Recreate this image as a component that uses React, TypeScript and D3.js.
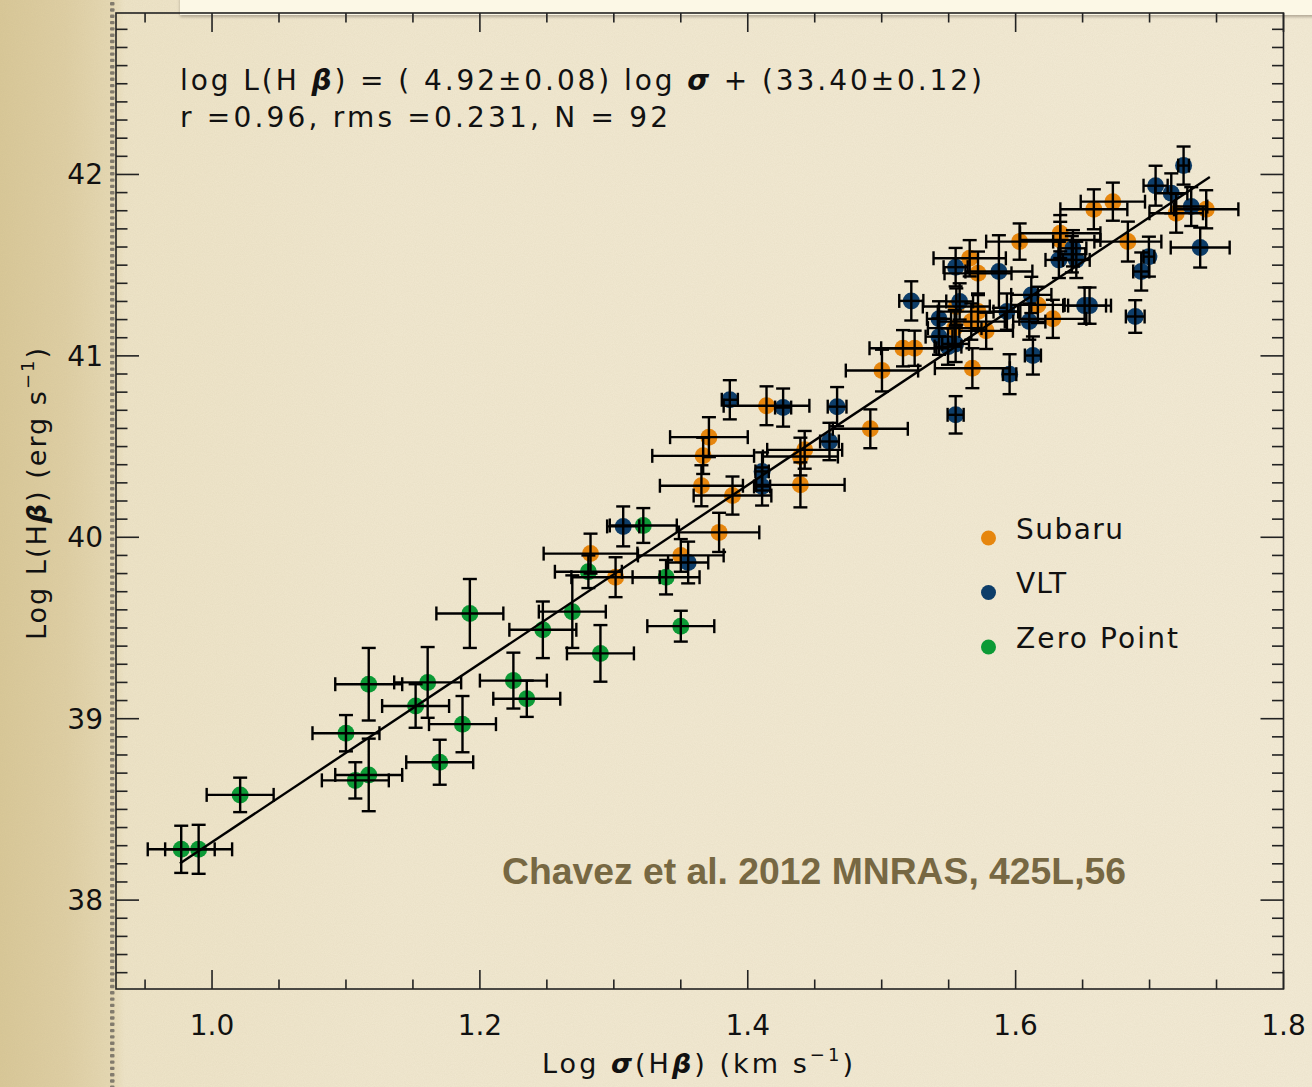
import React from 'react';
import * as d3 from 'd3';

const W = 1312;
const H = 1087;

// [log sigma(Hb), log L(Hb), error in log sigma, error in log L]
const zeroPointData: [number, number, number, number][] = [
  [0.977, 38.28, 0.025, 0.13],
  [0.990, 38.28, 0.025, 0.135],
  [1.021, 38.58, 0.025, 0.095],
  [1.100, 38.92, 0.025, 0.10],
  [1.107, 38.66, 0.025, 0.10],
  [1.117, 38.69, 0.025, 0.20],
  [1.117, 39.19, 0.025, 0.20],
  [1.161, 39.20, 0.025, 0.195],
  [1.152, 39.07, 0.025, 0.12],
  [1.187, 38.97, 0.025, 0.155],
  [1.170, 38.76, 0.025, 0.124],
  [1.1925, 39.58, 0.025, 0.19],
  [1.225, 39.21, 0.025, 0.154],
  [1.235, 39.11, 0.025, 0.10],
  [1.247, 39.49, 0.025, 0.156],
  [1.269, 39.59, 0.025, 0.20],
  [1.290, 39.36, 0.025, 0.156],
  [1.281, 39.81, 0.025, 0.09],
  [1.322, 40.065, 0.025, 0.096],
  [1.339, 39.78, 0.025, 0.095],
  [1.350, 39.51, 0.025, 0.085],
];

const subaruData: [number, number, number, number][] = [
  [1.2826, 39.91, 0.035, 0.11],
  [1.3013, 39.78, 0.033, 0.11],
  [1.350, 39.90, 0.032, 0.09],
  [1.3786, 40.027, 0.030, 0.108],
  [1.3886, 40.23, 0.029, 0.105],
  [1.3654, 40.284, 0.031, 0.113],
  [1.3667, 40.449, 0.038, 0.10],
  [1.371, 40.552, 0.029, 0.11],
  [1.414, 40.725, 0.032, 0.107],
  [1.4425, 40.482, 0.028, 0.104],
  [1.4393, 40.445, 0.028, 0.104],
  [1.4393, 40.289, 0.033, 0.124],
  [1.4915, 40.598, 0.028, 0.107],
  [1.5002, 40.919, 0.027, 0.115],
  [1.5159, 41.042, 0.025, 0.10],
  [1.5246, 41.042, 0.025, 0.097],
  [1.5677, 40.932, 0.028, 0.11],
  [1.6278, 41.204, 0.025, 0.105],
  [1.6166, 41.281, 0.02, 0.10],
  [1.578, 41.138, 0.02, 0.10],
  [1.5669, 41.189, 0.025, 0.10],
  [1.5719, 41.244, 0.03, 0.10],
  [1.5557, 41.272, 0.025, 0.10],
  [1.5545, 41.153, 0.02, 0.10],
  [1.5719, 41.455, 0.025, 0.12],
  [1.5657, 41.538, 0.027, 0.10],
  [1.603, 41.63, 0.025, 0.10],
  [1.6333, 41.676, 0.03, 0.10],
  [1.6333, 41.639, 0.03, 0.10],
  [1.6584, 41.808, 0.025, 0.11],
  [1.6726, 41.85, 0.024, 0.105],
  [1.7199, 41.786, 0.02, 0.107],
  [1.7423, 41.808, 0.024, 0.105],
  [1.6838, 41.63, 0.025, 0.11],
];

const vltData: [number, number, number, number][] = [
  [1.307, 40.06, 0.012, 0.11],
  [1.3555, 39.861, 0.015, 0.115],
  [1.3866, 40.758, 0.006, 0.108],
  [1.4264, 40.715, 0.006, 0.105],
  [1.4667, 40.72, 0.007, 0.108],
  [1.461, 40.528, 0.007, 0.103],
  [1.4107, 40.363, 0.005, 0.105],
  [1.4107, 40.28, 0.006, 0.105],
  [1.5221, 41.303, 0.009, 0.108],
  [1.5428, 41.204, 0.009, 0.097],
  [1.5428, 41.106, 0.01, 0.10],
  [1.5495, 41.051, 0.01, 0.10],
  [1.5552, 41.066, 0.01, 0.10],
  [1.5955, 40.899, 0.005, 0.11],
  [1.6129, 41.002, 0.006, 0.105],
  [1.6102, 41.189, 0.012, 0.10],
  [1.6117, 41.336, 0.015, 0.10],
  [1.6515, 41.277, 0.016, 0.10],
  [1.6552, 41.277, 0.016, 0.10],
  [1.5935, 41.244, 0.01, 0.10],
  [1.5582, 41.30, 0.01, 0.10],
  [1.5875, 41.465, 0.025, 0.20],
  [1.5552, 41.489, 0.009, 0.106],
  [1.6323, 41.529, 0.01, 0.10],
  [1.6428, 41.593, 0.01, 0.10],
  [1.6453, 41.529, 0.01, 0.10],
  [1.642, 41.56, 0.01, 0.10],
  [1.5552, 40.675, 0.006, 0.103],
  [1.7254, 42.049, 0.004, 0.105],
  [1.7045, 41.938, 0.009, 0.11],
  [1.7162, 41.896, 0.012, 0.11],
  [1.7311, 41.823, 0.012, 0.107],
  [1.7378, 41.597, 0.022, 0.11],
  [1.6995, 41.547, 0.004, 0.11],
  [1.6938, 41.465, 0.006, 0.105],
  [1.6893, 41.217, 0.007, 0.09],
];

const seriesNames = ['Subaru', 'VLT', 'Zero Point'];
const seriesColors = ['#e6860e', '#0d3d69', '#0c9a36'];
const legendWidths = [107, 50, 162];

const xMajorTicks = [1.0, 1.2, 1.4, 1.6, 1.8];
const xTickLabels = ['1.0', '1.2', '1.4', '1.6', '1.8'];
const yMajorTicks = [38, 39, 40, 41, 42];
const yTickLabels = ['38', '39', '40', '41', '42'];

const fitSlope = 4.92;
const fitIntercept = 33.40;
const fitXRange = [0.976, 1.745];

const FONT = '"DejaVu Sans", Verdana, sans-serif';

function ErrorBars({ data, x, y }: { data: [number, number, number, number][]; x: any; y: any }) {
  const cap = 7;
  return (
    <g stroke="#000" strokeWidth={2.4} fill="none">
      {data.map((d, i) => {
        const cx = x(d[0]);
        const cy = y(d[1]);
        const x0 = x(d[0] - d[2]);
        const x1 = x(d[0] + d[2]);
        const y0 = y(d[1] - d[3]);
        const y1 = y(d[1] + d[3]);
        return (
          <g key={i}>
            <line x1={x0} x2={x1} y1={cy} y2={cy} />
            <line x1={x0} x2={x0} y1={cy - cap} y2={cy + cap} />
            <line x1={x1} x2={x1} y1={cy - cap} y2={cy + cap} />
            <line x1={cx} x2={cx} y1={y0} y2={y1} />
            <line x1={cx - cap} x2={cx + cap} y1={y0} y2={y0} />
            <line x1={cx - cap} x2={cx + cap} y1={y1} y2={y1} />
          </g>
        );
      })}
    </g>
  );
}

export default function App() {
  const left = 116;
  const right = 1283.5;
  const top = 13;
  const bottom = 989;

  const x = d3.scaleLinear().domain([0.9283, 1.8]).range([left, right]);
  const y = d3.scaleLinear().domain([37.51, 42.89]).range([bottom, top]);

  const xMinor = d3.range(19, 36).map((i) => i * 0.05).filter((v) => Math.abs(v * 5 - Math.round(v * 5)) > 1e-6);
  const yMinor = d3.range(376, 429).map((i) => i / 10).filter((v) => Math.abs(v - Math.round(v)) > 1e-6);

  const line = d3.line<number>().x((v) => x(v)).y((v) => y(fitSlope * v + fitIntercept));

  const groups = [subaruData, vltData, zeroPointData];
  const dotOrder = [zeroPointData, subaruData, vltData];
  const dotColors = [seriesColors[2], seriesColors[0], seriesColors[1]];

  const stitches = d3.range(2, H, 6.3);

  return (
    <svg width={W} height={H} style={{ position: 'absolute', left: 0, top: 0 }} fontFamily={FONT}>
      <defs>
        <linearGradient id="bg" x1="0" x2="1" y1="0" y2="0">
          <stop offset="0" stopColor="#d9c898" />
          <stop offset="0.05" stopColor="#dfcfa4" />
          <stop offset="0.085" stopColor="#e6d9b4" />
          <stop offset="0.095" stopColor="#eee4c8" />
          <stop offset="0.3" stopColor="#f1e8d0" />
          <stop offset="1" stopColor="#f3ebd6" />
        </linearGradient>
        <filter id="noise" x="0" y="0" width="100%" height="100%">
          <feTurbulence type="fractalNoise" baseFrequency="0.9" numOctaves="2" seed="3" />
          <feColorMatrix type="matrix" values="0 0 0 0 0.45  0 0 0 0 0.38  0 0 0 0 0.22  0 0 0 0.35 0" />
        </filter>
        <filter id="shadow" x="-5%" y="-50%" width="110%" height="250%">
          <feDropShadow dx="0" dy="2" stdDeviation="1.5" floodColor="#8a8070" floodOpacity="0.6" />
        </filter>
      </defs>

      <rect x={0} y={0} width={W} height={H} fill="url(#bg)" />
      <rect x={0} y={0} width={W} height={H} filter="url(#noise)" opacity={0.35} />

      <g fill="#726c62" opacity={0.85}>
        {stitches.map((s, i) => (
          <rect key={i} x={110} y={s} width={4.5} height={3.4} rx={1} />
        ))}
      </g>

      <rect x={180} y={-4} width={W - 180 + 10} height={19} fill="#fcf8e6" filter="url(#shadow)" />

      {/* dots */}
      {dotOrder.map((data, gi) => (
        <g key={gi} fill={dotColors[gi]}>
          {data.map((d, i) => (
            <circle key={i} cx={x(d[0])} cy={y(d[1])} r={8.5} />
          ))}
        </g>
      ))}

      {/* error bars */}
      {groups.map((data, gi) => (
        <ErrorBars key={gi} data={data} x={x} y={y} />
      ))}

      {/* fit line */}
      <path d={line(fitXRange) || ''} stroke="#000" strokeWidth={2.4} fill="none" />

      {/* frame */}
      <g stroke="#222" strokeWidth={1.6} fill="none">
        <rect x={left} y={top} width={right - left} height={bottom - top} />
        {xMajorTicks.map((v, i) => (
          <g key={'xM' + i}>
            <line x1={x(v)} x2={x(v)} y1={bottom} y2={bottom - 19} />
            <line x1={x(v)} x2={x(v)} y1={top} y2={top + 19} />
          </g>
        ))}
        {xMinor.map((v, i) => (
          <g key={'xm' + i}>
            <line x1={x(v)} x2={x(v)} y1={bottom} y2={bottom - 9.5} />
            <line x1={x(v)} x2={x(v)} y1={top} y2={top + 9.5} />
          </g>
        ))}
        {yMajorTicks.map((v, i) => (
          <g key={'yM' + i}>
            <line x1={left} x2={left + 23} y1={y(v)} y2={y(v)} />
            <line x1={right} x2={right - 23} y1={y(v)} y2={y(v)} />
          </g>
        ))}
        {yMinor.map((v, i) => (
          <g key={'ym' + i}>
            <line x1={left} x2={left + 11.5} y1={y(v)} y2={y(v)} />
            <line x1={right} x2={right - 11.5} y1={y(v)} y2={y(v)} />
          </g>
        ))}
      </g>

      {/* tick labels */}
      <g fill="#111" fontSize={28}>
        {xMajorTicks.map((v, i) => (
          <text key={i} x={x(v)} y={1035} textAnchor="middle">{xTickLabels[i]}</text>
        ))}
        {yMajorTicks.map((v, i) => (
          <text key={i} x={103} y={y(v) + 10} textAnchor="end">{yTickLabels[i]}</text>
        ))}
      </g>

      {/* axis titles */}
      <text x={542} y={1073} fontSize={27} fill="#111" textLength={311} lengthAdjust="spacing">
        Log <tspan fontWeight="bold" fontStyle="italic">σ</tspan>(H<tspan fontWeight="bold" fontStyle="italic">β</tspan>) (km s<tspan dy={-12} fontSize={18}>−1</tspan><tspan dy={12}>)</tspan>
      </text>
      <text transform="translate(46,640) rotate(-90)" fontSize={27} fill="#111" textLength={292} lengthAdjust="spacing">
        Log L(H<tspan fontWeight="bold" fontStyle="italic">β</tspan>) (erg s<tspan dy={-12} fontSize={18}>−1</tspan><tspan dy={12}>)</tspan>
      </text>

      {/* equation */}
      <g fill="#111" fontSize={28}>
        <text x={180} y={90} textLength={802} lengthAdjust="spacing">
          log L(H <tspan fontWeight="bold" fontStyle="italic">β</tspan>) = ( 4.92±0.08) log <tspan fontWeight="bold" fontStyle="italic">σ</tspan> + (33.40±0.12)
        </text>
        <text x={180} y={127} textLength={488} lengthAdjust="spacing">r =0.96, rms =0.231, N = 92</text>
      </g>

      {/* legend */}
      {seriesNames.map((name, i) => (
        <g key={name}>
          <circle cx={988.5} cy={538 + i * 54.5} r={7.5} fill={seriesColors[i]} />
          <text x={1016} y={538.5 + i * 54.5} fontSize={28} fill="#111" textLength={legendWidths[i]} lengthAdjust="spacing">{name}</text>
        </g>
      ))}

      <text x={502} y={884} fontFamily='"Liberation Sans", Arial, sans-serif' fontWeight="bold" fontSize={37.3} fill="#776843">
        Chavez et al. 2012 MNRAS, 425L,56
      </text>
    </svg>
  );
}
